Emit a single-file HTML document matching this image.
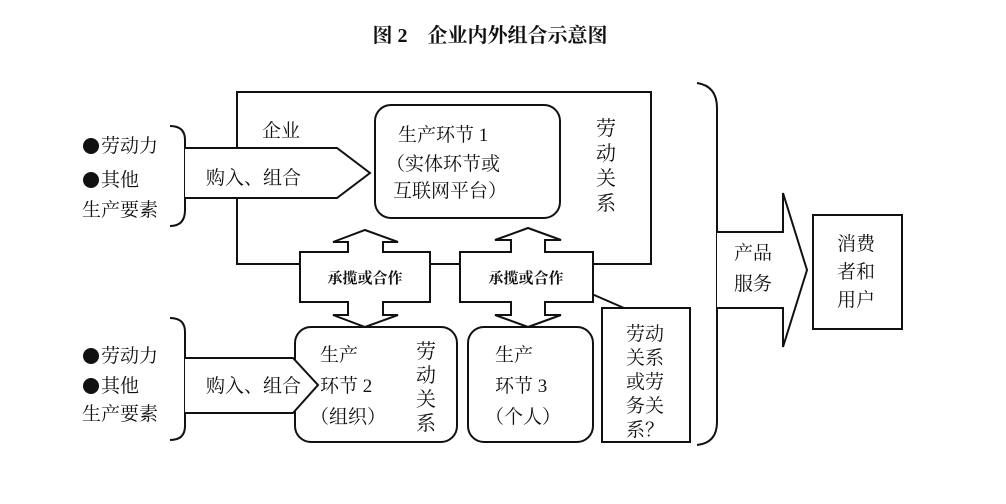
<!DOCTYPE html>
<html><head><meta charset="utf-8"><style>
body{margin:0;background:#fff;}
svg text{font-family:"Liberation Serif","Noto Serif CJK SC","Noto Sans CJK SC",serif;fill:#111;}
</style></head><body>
<svg width="1006" height="499" viewBox="0 0 1006 499" xmlns="http://www.w3.org/2000/svg">
<g fill="none" stroke="#111" stroke-width="2">
<path d="M237 148 V92 H651 V264 H593 M460 264 H430 M300 264 H237 V198"/>
<path d="M170 126 Q185 126 185 140 V210 Q185 226 170 226"/>
<path d="M170 318 Q185 318 185 332 V426 Q185 440 170 440"/>
<path d="M697 83 Q717 86 717 108 V422 Q717 443 697 445"/>
<rect x="375" y="105" width="185" height="113" rx="16" fill="#fff"/>
<rect x="295" y="327" width="162" height="115" rx="16" fill="#fff"/>
<rect x="468" y="327" width="125" height="115" rx="16" fill="#fff"/>
<rect x="602" y="308" width="88" height="134" fill="#fff"/>
<line x1="578" y1="288" x2="624" y2="308"/>
<rect x="813" y="215" width="89" height="114" fill="#fff"/>
<path d="M185 148 H337 L370 173 L337 198 H185" fill="#fff"/>
<path d="M185 358 H293 L318 385 L293 413 H185" fill="#fff"/>
<path d="M717 232 H783 V193 L807 270 L783 347 V308 H717" fill="#fff"/>
<path d="M365 230 L398 242 H383 V252 H430 V302 H383 V315 H398 L365 327 L333 315 H348 V302 H300 V252 H348 V242 H333 Z" fill="#fff"/>
<path d="M528 228 L561 240 H545 V252 H593 V302 H545 V315 H561 L528 327 L495 315 H511 V302 H460 V252 H511 V240 H495 Z" fill="#fff"/>
</g>
<g fill="#111">
<circle cx="91" cy="146" r="8"/><circle cx="91" cy="180" r="8"/>
<circle cx="91" cy="356" r="8"/><circle cx="91" cy="386" r="8"/>
</g>
<text x="490" y="42" font-size="20" font-weight="bold" text-anchor="middle">图 2　企业内外组合示意图</text>
<g font-size="19">
<text x="101" y="152">劳动力</text>
<text x="101" y="186">其他</text>
<text x="82" y="216">生产要素</text>
<text x="101" y="362">劳动力</text>
<text x="101" y="392">其他</text>
<text x="82" y="420">生产要素</text>
<text x="262" y="137">企业</text>
<text x="206" y="184">购入、组合</text>
<text x="206" y="392">购入、组合</text>
<text x="398" y="141">生产环节 1</text>
<text x="386" y="170">（实体环节或</text>
<text x="393" y="197">互联网平台）</text>
<text x="320" y="361">生产</text>
<text x="320" y="392">环节 2</text>
<text x="310" y="423">（组织）</text>
<text x="495" y="361">生产</text>
<text x="495" y="392">环节 3</text>
<text x="485" y="423">（个人）</text>
<text x="734" y="259">产品</text>
<text x="734" y="290">服务</text>
<text x="837" y="250">消费</text>
<text x="837" y="278">者和</text>
<text x="837" y="306">用户</text>
<text x="626" y="340">劳动</text>
<text x="626" y="364">关系</text>
<text x="626" y="388">或劳</text>
<text x="626" y="412">务关</text>
<text x="626" y="436">系？</text>
</g>
<g font-size="20" text-anchor="middle">
<text x="606" y="135">劳</text><text x="606" y="160">动</text><text x="606" y="185">关</text><text x="606" y="210">系</text>
<text x="426" y="358">劳</text><text x="426" y="382">动</text><text x="426" y="406">关</text><text x="426" y="430">系</text>
</g>
<g font-size="15" font-weight="bold" text-anchor="middle">
<text x="365" y="283">承揽或合作</text>
<text x="526" y="283">承揽或合作</text>
</g>
</svg>
</body></html>
